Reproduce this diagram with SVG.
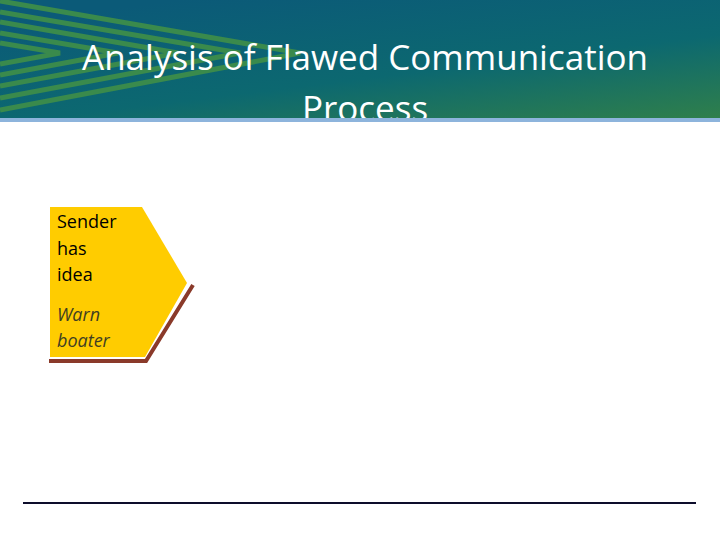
<svg xmlns="http://www.w3.org/2000/svg" width="720" height="540" viewBox="0 0 720 540">
  <defs>
    <linearGradient id="hdr" x1="0.25" y1="0" x2="1" y2="1">
      <stop offset="0" stop-color="#0b5a78"/>
      <stop offset="0.55" stop-color="#0c6870"/>
      <stop offset="1" stop-color="#2f7f4b"/>
    </linearGradient>
    <clipPath id="hclip"><rect x="0" y="0" width="720" height="118"/></clipPath>
  </defs>
  <style>
    .stripe { fill: none; stroke: #3a8a4c; stroke-width: 5; }
    .title { font-family: "Open Sans", "Liberation Sans", sans-serif; font-size: 35px; fill: #ffffff; text-anchor: middle; }
    .lbl { font-family: "Open Sans", "Liberation Sans", sans-serif; font-size: 18px; fill: #000000; }
    .lbl-i { font-family: "Open Sans", "Liberation Sans", sans-serif; font-size: 18px; font-style: italic; fill: #3f3f22; }
  </style>
  <rect width="720" height="540" fill="#ffffff"/>
  <g id="header" clip-path="url(#hclip)">
    <rect x="0" y="0" width="720" height="118" fill="url(#hdr)"/>
    <polyline class="stripe" points="0,43 60,53 0,64"/>
    <polyline class="stripe" points="0,33 118,53 0,75"/>
    <polyline class="stripe" points="0,22 178,53 0,86"/>
    <polyline class="stripe" points="0,12 240,53 0,98"/>
    <polyline class="stripe" points="0,1 300,53 0,110"/>
    <text class="title" x="365" y="70">Analysis of Flawed Communication</text>
    <text class="title" x="365" y="121">Process</text>
  </g>
  <rect x="0" y="118" width="720" height="4" fill="#8db4dc"/>
  <g id="connectors"/>
  <g id="sender">
    <polyline points="193,285 146,361 49,361" fill="none" stroke="#8a3a2a" stroke-width="4"/>
    <polygon points="50,207 142,207 187,283 145,357 50,357" fill="#ffcc00"/>
    <text class="lbl" x="57" y="228">Sender</text>
    <text class="lbl" x="57" y="255">has</text>
    <text class="lbl" x="57" y="281">idea</text>
    <text class="lbl-i" x="57" y="321">Warn</text>
    <text class="lbl-i" x="57" y="347">boater</text>
  </g>
  <line x1="23" y1="503" x2="696" y2="503" stroke="#0d0d2b" stroke-width="2"/>
</svg>
